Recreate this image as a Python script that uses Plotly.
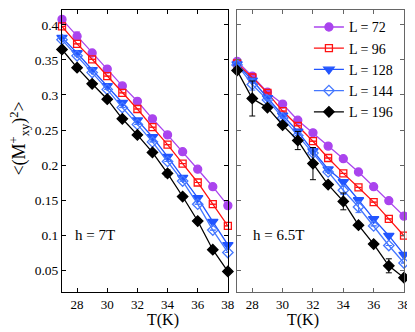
import plotly.graph_objects as go

temps = [27, 28, 29, 30, 31, 32, 33, 34, 35, 36, 37, 38]
sizes = ["L = 72", "L = 96", "L = 128", "L = 144", "L = 196"]

# h = 7T (left panel)
h7_L72 = [0.408, 0.384, 0.360, 0.337, 0.313, 0.291, 0.266, 0.243, 0.219, 0.194, 0.169, 0.142]
h7_L96 = [0.398, 0.373, 0.351, 0.327, 0.303, 0.280, 0.254, 0.229, 0.202, 0.175, 0.144, 0.113]
h7_L128 = [0.382, 0.360, 0.336, 0.313, 0.289, 0.264, 0.240, 0.212, 0.182, 0.153, 0.119, 0.086]
h7_L144 = [0.379, 0.356, 0.332, 0.308, 0.282, 0.258, 0.233, 0.205, 0.177, 0.144, 0.107, 0.075]
h7_L196 = [0.365, 0.339, 0.316, 0.294, 0.266, 0.243, 0.218, 0.188, 0.155, 0.120, 0.079, 0.048]
h7_err = [
    [0, 0.006, 0, 0, 0, 0, 0, 0, 0, 0, 0, 0],
    [0] * 12,
    [0] * 12,
    [0] * 12,
    [0, 0, 0, 0, 0, 0, 0, 0.005, 0, 0, 0, 0],
]

# h = 6.5T (right panel)
h65_L72 = [0.348, 0.327, 0.304, 0.287, 0.264, 0.246, 0.227, 0.209, 0.190, 0.169, 0.149, 0.127]
h65_L96 = [0.345, 0.325, 0.303, 0.277, 0.256, 0.234, 0.210, 0.188, 0.168, 0.147, 0.123, 0.099]
h65_L128 = [0.344, 0.321, 0.296, 0.271, 0.248, 0.220, 0.194, 0.176, 0.150, 0.123, 0.099, 0.072]
h65_L144 = [0.343, 0.315, 0.293, 0.267, 0.242, 0.217, 0.190, 0.164, 0.140, 0.113, 0.085, 0.060]
h65_L196 = [0.335, 0.295, 0.282, 0.257, 0.235, 0.202, 0.172, 0.148, 0.114, 0.087, 0.056, 0.039]
h65_err = [
    [0] * 12,
    [0] * 12,
    [0, 0, 0, 0, 0, 0.004, 0, 0, 0, 0, 0, 0],
    [0, 0.008, 0, 0, 0, 0, 0, 0.006, 0.008, 0, 0, 0],
    [0, 0.025, 0, 0, 0.013, 0.023, 0, 0.012, 0, 0, 0.010, 0],
]

colors = ["#AA44EE", "#FF1111", "#2255FF", "#4477FF", "#000000"]
symbols = ["circle", "square-open", "triangle-down", "diamond-open", "diamond"]
msizes = [8, 7, 9, 8, 8]

font = "Liberation Serif"
fig = go.Figure()

left = [h7_L72, h7_L96, h7_L128, h7_L144, h7_L196]
right = [h65_L72, h65_L96, h65_L128, h65_L144, h65_L196]

for i in range(5):
    fig.add_trace(go.Scatter(
        x=temps, y=left[i], mode="lines+markers", name=sizes[i], showlegend=False,
        line=dict(color=colors[i], width=1.3),
        marker=dict(symbol=symbols[i], size=msizes[i], color=colors[i],
                    line=dict(color=colors[i], width=1.3)),
        error_y=dict(type="data", array=h7_err[i], color=colors[i], thickness=1, width=3),
        cliponaxis=False, xaxis="x", yaxis="y"))

for i in range(5):
    fig.add_trace(go.Scatter(
        x=temps, y=right[i], mode="lines+markers", name=sizes[i], showlegend=True,
        line=dict(color=colors[i], width=1.3),
        marker=dict(symbol=symbols[i], size=msizes[i], color=colors[i],
                    line=dict(color=colors[i], width=1.3)),
        error_y=dict(type="data", array=h65_err[i], color=colors[i], thickness=1, width=3),
        cliponaxis=False, xaxis="x2", yaxis="y2"))

xcommon = dict(range=[27, 38], tickvals=[28, 30, 32, 34, 36, 38], ticks="inside",
               ticklen=4, mirror="ticks", showline=True, showgrid=False, zeroline=False,
               tickfont=dict(family=font, size=13, color="black"))
ycommon = dict(range=[0.0186, 0.4214], tickvals=[0.05, 0.1, 0.15, 0.2, 0.25, 0.3, 0.35, 0.4],
               ticks="inside", ticklen=4, mirror="ticks", showline=True, showgrid=False,
               zeroline=False, tickfont=dict(family=font, size=13.5, color="black"))

# the page body adds an 8px offset, so the figure is 8px smaller with tighter left/top margins
fig.update_layout(
    width=407, height=324,
    margin=dict(l=54, r=11, t=2, b=40),
    paper_bgcolor="white", plot_bgcolor="white",
    xaxis=dict(domain=[0, 0.485], anchor="y", linecolor="black", tickcolor="black", **xcommon),
    xaxis2=dict(domain=[0.512, 1], anchor="y2", linecolor="#666666", tickcolor="#666666", **xcommon),
    yaxis=dict(anchor="x", linecolor="black", tickcolor="black",
               ticktext=["0.05", "0.1", "0.15", "0.2", "0.25", "0.3", "0.35", "0.4"], **ycommon),
    yaxis2=dict(anchor="x2", matches="y", showticklabels=False, linecolor="#666666",
                tickcolor="#666666", **ycommon),
    legend=dict(x=0.722, y=0.995, xanchor="left", yanchor="top", bgcolor="rgba(0,0,0,0)",
                font=dict(family=font, size=14, color="black"), tracegroupgap=0,
                itemwidth=30),
    annotations=[
        dict(text="T(K)", x=0.2425, y=-0.062, xref="paper", yref="paper", yanchor="top",
             showarrow=False, font=dict(family=font, size=16, color="black")),
        dict(text="T(K)", x=0.756, y=-0.062, xref="paper", yref="paper", yanchor="top",
             showarrow=False, font=dict(family=font, size=16, color="black")),
        dict(text="&lt;(M<sup>+</sup><sub>xy</sub>)<sup>2</sup>&gt;", textangle=-90,
             x=-0.125, y=0.545, xref="paper", yref="paper", xanchor="center",
             yanchor="middle", showarrow=False,
             font=dict(family=font, size=18, color="black")),
        dict(text="h = 7T", x=27.7, y=0.1, xref="x", yref="y", xanchor="left",
             showarrow=False, font=dict(family=font, size=15, color="black")),
        dict(text="h = 6.5T", x=27.9, y=0.1, xref="x2", yref="y2", xanchor="left",
             showarrow=False, font=dict(family=font, size=15, color="black")),
    ],
)

fig.write_html("out.html")
